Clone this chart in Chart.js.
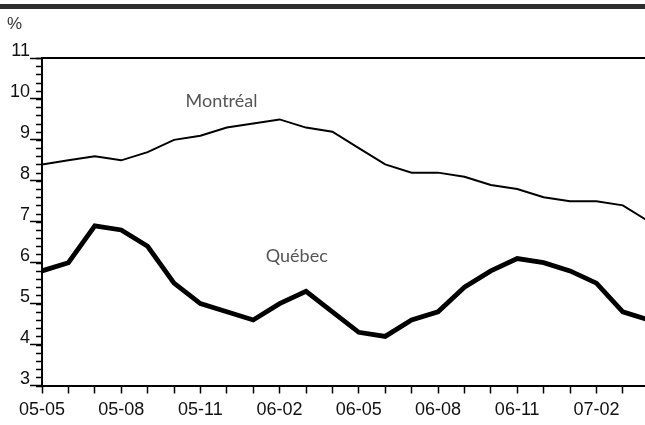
<!DOCTYPE html>
<html>
<head>
<meta charset="utf-8">
<script src="https://cdn.jsdelivr.net/npm/chart.js@4.4.1/dist/chart.umd.min.js"></script>
<style>
  html, body { margin: 0; padding: 0; background: #fff; }
  #wrap { width: 645px; height: 425px; position: relative; }
</style>
</head>
<body>
<div id="wrap"><canvas id="chart"></canvas></div>
<script>
// months, 2005-05 .. 2007-04
const months = [
  '05-05', '05-06', '05-07', '05-08', '05-09', '05-10', '05-11', '05-12',
  '06-01', '06-02', '06-03', '06-04', '06-05', '06-06', '06-07', '06-08',
  '06-09', '06-10', '06-11', '06-12', '07-01', '07-02', '07-03', '07-04',
];
const montreal = [8.4, 8.5, 8.6, 8.5, 8.7, 9.0, 9.1, 9.3, 9.4, 9.5, 9.3, 9.2,
  8.8, 8.4, 8.2, 8.2, 8.1, 7.9, 7.8, 7.6, 7.5, 7.5, 7.4, 7.0];
const quebec = [5.8, 6.0, 6.9, 6.8, 6.4, 5.5, 5.0, 4.8, 4.6, 5.0, 5.3, 4.8,
  4.3, 4.2, 4.6, 4.8, 5.4, 5.8, 6.1, 6.0, 5.8, 5.5, 4.8, 4.6];
const yTicks = [3, 4, 5, 6, 7, 8, 9, 10, 11];

const tickFont = { family: '"Liberation Sans", Arial, sans-serif', size: 18 };

const toPoints = (vals) => vals.map((v, i) => ({ x: i, y: v }));

// frame, top bar, minor ticks and series names
const decor = {
  id: 'decor',
  beforeDraw(chart) {
    const c = chart.ctx;
    c.save();
    c.fillStyle = '#2e2e2e';
    c.fillRect(0, 4, chart.width, 5);
    c.fillStyle = '#333';
    c.font = '17px "Liberation Sans", Arial, sans-serif';
    c.textBaseline = 'alphabetic';
    c.fillText('%', 7, 29);
    c.restore();
  },
  afterDraw(chart) {
    const c = chart.ctx;
    const a = chart.chartArea;
    const y = chart.scales.y;
    c.save();
    c.strokeStyle = '#000';
    c.lineWidth = 2;
    c.beginPath();
    c.moveTo(a.left, a.top);
    c.lineTo(a.right, a.top);
    c.stroke();
    c.lineWidth = 1.5;
    c.beginPath();
    for (let v = 3; v <= 11.001; v += 0.2) {
      const p = Math.round(y.getPixelForValue(v)) + 0.5;
      c.moveTo(a.left - 6, p);
      c.lineTo(a.left, p);
    }
    c.stroke();
    c.fillStyle = '#555';
    c.font = '18px Lato, "Open Sans", sans-serif';
    c.textAlign = 'center';
    c.textBaseline = 'middle';
    const x = chart.scales.x;
    c.fillText('Montréal', x.getPixelForValue(6.8), y.getPixelForValue(9.95));
    c.fillText('Québec', x.getPixelForValue(9.65), y.getPixelForValue(6.16));
    c.restore();
  },
};

new Chart(document.getElementById('chart'), {
  type: 'line',
  data: {
    datasets: [
      {
        label: 'Montréal',
        data: toPoints(montreal),
        borderColor: '#000',
        borderWidth: 2,
        pointRadius: 0,
        tension: 0,
      },
      {
        label: 'Québec',
        data: toPoints(quebec),
        borderColor: '#000',
        borderWidth: 4.8,
        pointRadius: 0,
        tension: 0,
      },
    ],
  },
  options: {
    responsive: true,
    maintainAspectRatio: false,
    animation: false,
    layout: { padding: { top: 58, right: 0, bottom: 0, left: 0 } },
    plugins: { legend: { display: false }, tooltip: { enabled: false } },
    scales: {
      x: {
        type: 'linear',
        min: 0,
        max: 22.84,
        afterFit(s) { s.height = 39.5; },
        border: { color: '#000', width: 2 },
        grid: { drawOnChartArea: false, tickLength: 8, tickColor: '#000', tickWidth: 1.5 },
        ticks: {
          stepSize: 1,
          autoSkip: false,
          includeBounds: false,
          maxRotation: 0,
          padding: 6,
          color: '#111',
          font: tickFont,
          callback: (v) => (v % 3 === 0 ? months[v] : ''),
        },
      },
      y: {
        min: 3,
        max: 11,
        afterFit(s) { s.width = 42; },
        border: { color: '#000', width: 2 },
        grid: { drawOnChartArea: false, tickLength: 12, tickColor: '#000', tickWidth: 1.5 },
        afterBuildTicks(s) { s.ticks = yTicks.map((v) => ({ value: v })); },
        ticks: {
          padding: 0,
          labelOffset: -6.5,
          color: '#111',
          font: tickFont,
        },
      },
    },
  },
  plugins: [decor],
});
</script>
</body>
</html>
